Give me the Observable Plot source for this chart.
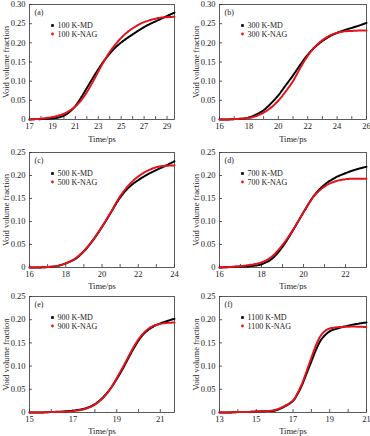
<!DOCTYPE html>
<html>
<head>
<meta charset="utf-8">
<script src="https://cdn.jsdelivr.net/npm/d3@7"></script>
<script src="https://cdn.jsdelivr.net/npm/@observablehq/plot@0.6"></script>
<style>
  html, body { margin: 0; padding: 0; background: #fff; }
  #wrap { position: relative; width: 370px; height: 436px; }
  .panel { position: absolute; }
  .panel svg { display: block; }
</style>
</head>
<body>
<div id="wrap"></div>
<script>
// ---- data ----
const labelsPanel = ["(a)", "(b)", "(c)", "(d)", "(e)", "(f)"];
const temps = [100, 300, 500, 700, 900, 1100];

const timeA = [17,17.5,18,18.5,19,19.5,20,20.5,21,21.5,22,22.5,23,23.5,24,24.5,25,25.5,26,26.5,27,27.5,28,28.5,29,29.65];
const mdA   = [0,0.001,0.001,0.002,0.003,0.005,0.010,0.020,0.035,0.057,0.082,0.107,0.131,0.153,0.172,0.188,0.201,0.212,0.222,0.232,0.241,0.249,0.256,0.263,0.270,0.279];
const nagA  = [0,0.001,0.002,0.004,0.006,0.010,0.015,0.023,0.034,0.050,0.071,0.097,0.125,0.152,0.176,0.196,0.213,0.227,0.238,0.247,0.254,0.259,0.263,0.266,0.267,0.268];

const timeB = [16,16.5,17,17.5,18,18.5,19,19.5,20,20.5,21,21.5,22,22.5,23,23.5,24,24.5,25,25.5,26];
const mdB   = [0,0,0.001,0.002,0.005,0.013,0.024,0.042,0.063,0.089,0.115,0.143,0.169,0.189,0.205,0.217,0.226,0.233,0.239,0.245,0.252];
const nagB  = [0,0,0.001,0.002,0.004,0.009,0.018,0.031,0.049,0.073,0.100,0.135,0.166,0.190,0.207,0.219,0.226,0.230,0.231,0.232,0.232];

const timeC = [16,16.5,17,17.5,18,18.5,19,19.5,20,20.5,21,21.5,22,22.5,23,23.5,24];
const mdC   = [0,0,0.001,0.003,0.009,0.018,0.035,0.059,0.088,0.120,0.152,0.175,0.190,0.202,0.212,0.221,0.231];
const nagC  = [0,0,0.001,0.003,0.009,0.019,0.036,0.060,0.089,0.121,0.155,0.180,0.198,0.210,0.218,0.221,0.222];

const timeD = [16,16.5,17,17.5,18,18.5,19,19.5,20,20.5,21,21.5,22,22.5,23];
const mdD   = [0,0.001,0.002,0.003,0.007,0.019,0.045,0.081,0.120,0.156,0.180,0.195,0.205,0.213,0.219];
const nagD  = [0,0.001,0.003,0.006,0.011,0.024,0.049,0.082,0.120,0.155,0.176,0.187,0.192,0.193,0.193];

const timeE = [15,15.5,16,16.5,17,17.5,17.75,18,18.25,18.5,18.75,19,19.25,19.5,19.75,20,20.25,20.5,20.75,21,21.3,21.65];
const mdE   = [0,0,0.001,0.002,0.004,0.008,0.012,0.018,0.027,0.039,0.054,0.072,0.092,0.114,0.136,0.155,0.170,0.180,0.187,0.192,0.197,0.202];
const nagE  = [0,0,0.001,0.001,0.003,0.007,0.011,0.017,0.026,0.038,0.054,0.074,0.095,0.117,0.139,0.158,0.172,0.182,0.188,0.191,0.193,0.194];

const timeF = [13,13.5,14,14.5,15,15.5,16,16.5,17,17.25,17.5,17.75,18,18.25,18.5,18.75,19,19.5,20,20.5,21];
const mdF   = [0,0,0.001,0.001,0.002,0.003,0.004,0.012,0.025,0.040,0.060,0.085,0.110,0.135,0.155,0.167,0.175,0.182,0.187,0.191,0.194];
const nagF  = [0,0,0.001,0.001,0.002,0.003,0.005,0.013,0.026,0.042,0.063,0.090,0.118,0.145,0.165,0.176,0.181,0.184,0.185,0.185,0.184];

const xDomains = [[17,29.65],[16,26],[16,24],[16,23],[15,21.65],[13,21]];
const xTickLabels = [[17,19,21,23,25,27,29],[16,18,20,22,24,26],[16,18,20,22,24],[16,18,20,22],[15,17,19,21],[13,15,17,19,21]];
const yMax = [0.30, 0.30, 0.25, 0.25, 0.25, 0.25];
const yTickLabels = [0,0.05,0.10,0.15,0.20,0.25,0.30];

const series = [
  [timeA, mdA, nagA], [timeB, mdB, nagB], [timeC, mdC, nagC],
  [timeD, mdD, nagD], [timeE, mdE, nagE], [timeF, mdF, nagF]
];

// ---- layout ----
const layout = [
  {left: 0,   top: 0,   w: 185, h: 145, ml: 29, mr: 11, mt: 4, mb: 26, xo: 22},
  {left: 185, top: 0,   w: 185, h: 145, ml: 34, mr: 4,  mt: 4, mb: 26, xo: 22},
  {left: 0,   top: 145, w: 185, h: 145, ml: 29, mr: 11, mt: 7, mb: 23, xo: 21},
  {left: 185, top: 145, w: 185, h: 145, ml: 34, mr: 4,  mt: 7, mb: 23, xo: 21},
  {left: 0,   top: 290, w: 185, h: 146, ml: 29, mr: 11, mt: 6, mb: 24, xo: 21},
  {left: 185, top: 290, w: 185, h: 146, ml: 34, mr: 4,  mt: 6, mb: 24, xo: 21}
];

const BLACK = "#000000";
const RED = "#e3121b";
const FONT = "'Liberation Serif', 'DejaVu Serif', serif";

const wrap = document.getElementById("wrap");

layout.forEach((L, i) => {
  const [t, md, nag] = series[i];
  const rows = t.map((x, j) => ({t: x, v: md[j]}));
  const rowsN = t.map((x, j) => ({t: x, v: nag[j]}));
  const fh = L.h - L.mt - L.mb;
  const fw = L.w - L.ml - L.mr;
  const [x0, x1] = xDomains[i];
  const minorX = d3.range(Math.ceil(x0), Math.floor(x1) + 1);
  const yTicks = yTickLabels.filter(v => v <= yMax[i] + 1e-9);

  const chart = Plot.plot({
    width: L.w, height: L.h,
    marginLeft: L.ml, marginRight: L.mr, marginTop: L.mt, marginBottom: L.mb,
    style: {fontFamily: FONT, fontSize: "8.5px", color: "#222", background: "white"},
    x: {domain: xDomains[i]},
    y: {domain: [0, yMax[i]]},
    marks: [
      Plot.axisX({ticks: xTickLabels[i], tickSize: 0, tickPadding: 3, tickFormat: d => String(d),
        label: "Time/ps", labelAnchor: "center", labelArrow: "none", labelOffset: L.xo}),
      Plot.axisY({ticks: yTicks, tickSize: 0, tickPadding: 4, tickFormat: d => d === 0 ? "0" : d.toFixed(2),
        label: "Void volume fraction", labelAnchor: "center", labelArrow: "none", labelOffset: 27}),
      Plot.tickX(minorX, {x: d => d, insetTop: fh - 3, stroke: "#333", strokeWidth: 0.8}),
      Plot.tickY(yTicks, {y: d => d, insetRight: fw - 3, stroke: "#333", strokeWidth: 0.8}),
      Plot.frame({stroke: "#333", strokeWidth: 0.8}),
      Plot.line(rows, {x: "t", y: "v", stroke: BLACK, strokeWidth: 2, curve: "catmull-rom", strokeDasharray: "1.6 0.7"}),
      Plot.line(rowsN, {x: "t", y: "v", stroke: RED, strokeWidth: 2, curve: "catmull-rom", strokeDasharray: "1.6 0.7"}),
      Plot.text([labelsPanel[i]], {text: d => d, frameAnchor: "top-left", dx: 5, dy: 8, textAnchor: "start", lineAnchor: "middle", fontSize: 8}),
      Plot.dot([0], {frameAnchor: "top-left", dx: 23, dy: 21, symbol: "square", r: 1.5, fill: BLACK}),
      Plot.dot([0], {frameAnchor: "top-left", dx: 23, dy: 29.5, symbol: "circle", r: 1.4, fill: RED}),
      Plot.text([temps[i] + " K-MD"], {text: d => d, frameAnchor: "top-left", dx: 28, dy: 21, textAnchor: "start", lineAnchor: "middle", fontSize: 8}),
      Plot.text([temps[i] + " K-NAG"], {text: d => d, frameAnchor: "top-left", dx: 28, dy: 29.5, textAnchor: "start", lineAnchor: "middle", fontSize: 8})
    ]
  });
  const div = document.createElement("div");
  div.className = "panel";
  div.style.left = L.left + "px";
  div.style.top = L.top + "px";
  div.appendChild(chart);
  wrap.appendChild(div);
});
</script>
</body>
</html>
